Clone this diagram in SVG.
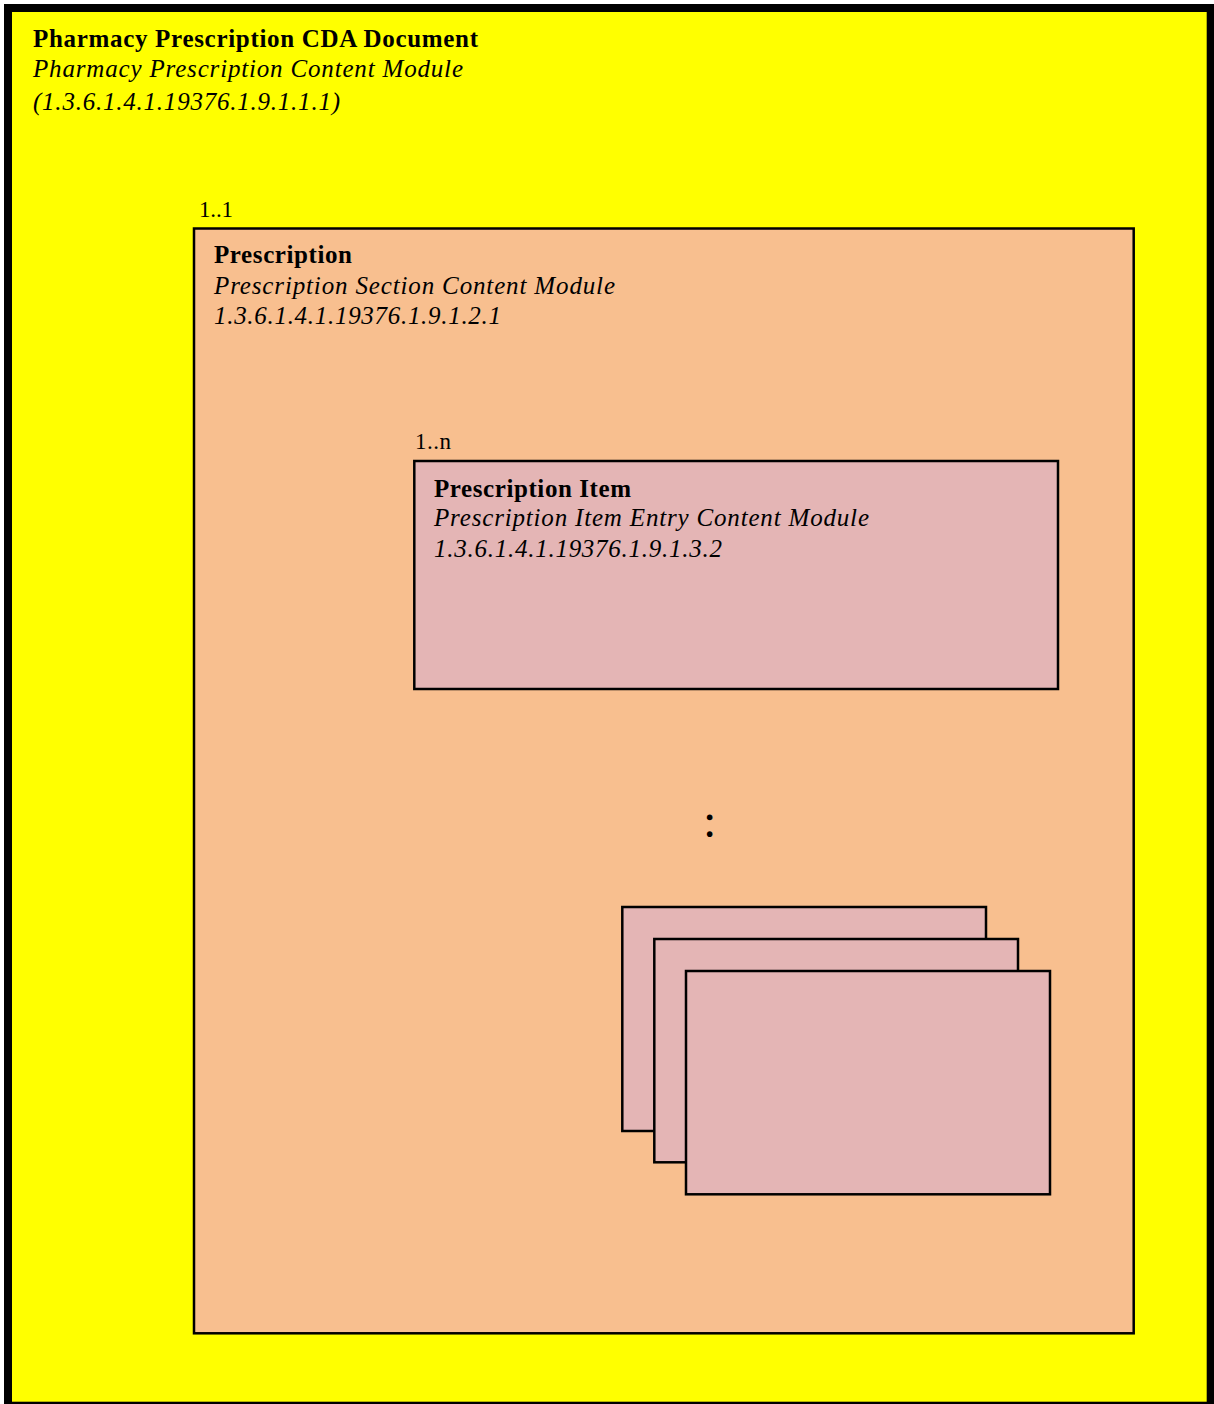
<svg xmlns="http://www.w3.org/2000/svg" width="1214" height="1404" viewBox="0 0 1214 1404">
<style>
.b{font-family:"Liberation Serif","Times New Roman",serif;font-weight:bold;font-size:25px;fill:#000}
.i{font-family:"Liberation Serif","Times New Roman",serif;font-style:italic;font-size:25px;fill:#000}
.r{font-family:"Liberation Serif","Times New Roman",serif;font-size:23px;fill:#000}
.dots{font-family:"Liberation Serif","Times New Roman",serif;font-size:48px;fill:#000}
.doc{fill:#FFFF00;stroke:#000;stroke-width:8}
.sec{fill:#F8BF8F;stroke:#000;stroke-width:2.5}
.item{fill:#E4B5B5;stroke:#000;stroke-width:2.5}
</style>
<rect x="0" y="0" width="1214" height="1404" fill="#fff"/>
<g id="document">
<rect class="doc" x="8" y="8" width="1202.7" height="1397.7"/>
<text class="b" x="33" y="46.5" textLength="445" lengthAdjust="spacing">Pharmacy Prescription CDA Document</text>
<text class="i" x="33" y="76.5" textLength="430" lengthAdjust="spacing">Pharmacy Prescription Content Module</text>
<text class="i" x="33" y="109.5" textLength="307" lengthAdjust="spacing">(1.3.6.1.4.1.19376.1.9.1.1.1)</text>
</g>
<g id="prescription">
<text class="r" x="199" y="216.5" textLength="34" lengthAdjust="spacing">1..1</text>
<rect class="sec" x="194" y="228.5" width="939.7" height="1104.8"/>
<text class="b" x="214" y="262.5" textLength="138" lengthAdjust="spacing">Prescription</text>
<text class="i" x="214" y="293.5" textLength="401" lengthAdjust="spacing">Prescription Section Content Module</text>
<text class="i" x="214" y="323.5" textLength="287" lengthAdjust="spacing">1.3.6.1.4.1.19376.1.9.1.2.1</text>
</g>
<g id="prescription-item">
<text class="r" x="415" y="448.5" textLength="36" lengthAdjust="spacing">1..n</text>
<rect class="item" x="414.3" y="461" width="643.7" height="228"/>
<text class="b" x="434" y="496.5" textLength="197" lengthAdjust="spacing">Prescription Item</text>
<text class="i" x="434" y="525.5" textLength="435" lengthAdjust="spacing">Prescription Item Entry Content Module</text>
<text class="i" x="434" y="556.5" textLength="288" lengthAdjust="spacing">1.3.6.1.4.1.19376.1.9.1.3.2</text>
</g>
<g id="ellipsis">
<text class="dots" x="709.7" y="836.5" text-anchor="middle">:</text>
</g>
<g id="item-stack">
<rect class="item" x="622.3" y="907" width="363.7" height="224"/>
<rect class="item" x="654.3" y="939" width="363.7" height="223.3"/>
<rect class="item" x="686" y="971" width="364" height="223.3"/>
</g>
<g id="connectors"/>
</svg>
